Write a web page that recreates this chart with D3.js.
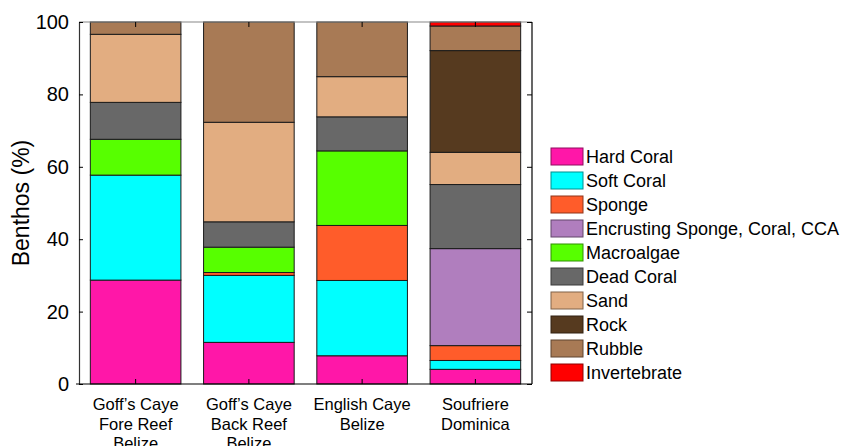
<!DOCTYPE html>
<html>
<head>
<meta charset="utf-8">
<script src="https://cdn.jsdelivr.net/npm/d3@7"></script>
<style>
  body { margin: 0; background: #fff; }
  svg { display: block; font-family: "Liberation Sans", Arial, sans-serif; }
</style>
</head>
<body>
<svg id="chart" width="853" height="446"></svg>
<script>
// sites along x, label lines
var sites = ["GFR", "GBR", "EC", "SD"];
var siteLabels = [
  ["Goff\u2019s Caye", "Fore Reef", "Belize"],
  ["Goff\u2019s Caye", "Back Reef", "Belize"],
  ["English Caye", "Belize"],
  ["Soufriere", "Dominica"]
];
var categories = ["Hard Coral", "Soft Coral", "Sponge", "Encrusting Sponge, Coral, CCA",
  "Macroalgae", "Dead Coral", "Sand", "Rock", "Rubble", "Invertebrate"];
var colors = ["#ff17a8", "#00ffff", "#ff5c2a", "#b07ebe", "#57ff00",
  "#686868", "#e2ad81", "#563a1f", "#a87a55", "#ff0000"];

// percent cover per site, same order as categories
var hardCoral   = [28.7, 11.5,  7.8,  4.05];
var softCoral   = [29.0, 18.5, 20.8,  2.45];
var sponge      = [ 0,    0.8, 15.2,  4.1];
var encrusting  = [ 0,    0,    0,   26.8];
var macroalgae  = [ 9.9,  7.0, 20.6,  0];
var deadCoral   = [10.2,  7.0,  9.4, 17.7];
var sand        = [18.8, 27.5, 11.1,  8.9];
var rock        = [ 0,    0,    0,   28.1];
var rubble      = [ 3.4, 27.7, 15.1,  6.8];
var invertebrate= [ 0,    0,    0,    1.1];
var yTicks = [0, 20, 40, 60, 80, 100];

var series = [hardCoral, softCoral, sponge, encrusting, macroalgae, deadCoral, sand, rock, rubble, invertebrate];
var rows = sites.map(function(s, i) {
  var r = { site: s };
  categories.forEach(function(c, j) { r[c] = series[j][i]; });
  return r;
});

var svg = d3.select("#chart");
var m = { left: 79, right: 532, top: 22, bottom: 384 };

var x = d3.scaleBand().domain(sites).range([m.left, m.right]).paddingInner(0.2).paddingOuter(0.1);
var y = d3.scaleLinear().domain([0, 100]).range([m.bottom, m.top]);
var color = d3.scaleOrdinal().domain(categories).range(colors);

var stack = d3.stack().keys(categories);
var layers = stack(rows);

var g = svg.append("g");
layers.forEach(function(layer) {
  g.selectAll(null)
    .data(layer.filter(function(d) { return d[1] - d[0] > 0; }))
    .enter().append("rect")
    .attr("x", function(d) { return x(d.data.site); })
    .attr("width", x.bandwidth())
    .attr("y", function(d) { return y(d[1]); })
    .attr("height", function(d) { return y(d[0]) - y(d[1]); })
    .attr("fill", color(layer.key))
    .attr("stroke", "#1a1a1a")
    .attr("stroke-width", 1);
});

// frame
svg.append("line").attr("x1", m.left).attr("x2", m.right).attr("y1", m.top).attr("y2", m.top)
  .attr("stroke", "#888").attr("stroke-width", 1.2);
svg.append("line").attr("x1", m.right).attr("x2", m.right).attr("y1", m.top).attr("y2", m.bottom)
  .attr("stroke", "#000").attr("stroke-width", 1.2);

// left axis, ticks inward
var yAxis = d3.axisLeft(y).tickValues(yTicks).tickSizeInner(-4).tickSizeOuter(0).tickPadding(10);
var ya = svg.append("g").attr("transform", "translate(" + m.left + ",0)").call(yAxis);
ya.select(".domain").attr("stroke", "#333").attr("stroke-width", 1.2);
ya.selectAll("text").attr("font-size", 20).attr("fill", "#000")
  .attr("font-family", "Liberation Sans, Arial, sans-serif");

// right axis ticks (no labels)
var yAxisR = d3.axisRight(y).tickValues(yTicks).tickSizeInner(-5).tickSizeOuter(0).tickFormat("");
var yr = svg.append("g").attr("transform", "translate(" + m.right + ",0)").call(yAxisR);
yr.select(".domain").remove();

// bottom axis
var xAxis = d3.axisBottom(x).tickSizeInner(-5).tickSizeOuter(0).tickFormat("");
var xa = svg.append("g").attr("transform", "translate(0," + m.bottom + ")").call(xAxis);
xa.select(".domain").attr("d", "M" + (m.left - 3) + ",0H" + m.right).attr("stroke-width", 1.2);

// top ticks
var xAxisT = d3.axisTop(x).tickSizeInner(-5).tickSizeOuter(0).tickFormat("");
var xt = svg.append("g").attr("transform", "translate(0," + m.top + ")").call(xAxisT);
xt.select(".domain").remove();

// x labels
sites.forEach(function(s, i) {
  var cx = x(s) + x.bandwidth() / 2;
  var t = svg.append("text")
    .attr("x", cx)
    .attr("y", 410)
    .attr("text-anchor", "middle")
    .attr("font-size", 16.5);
  siteLabels[i].forEach(function(line, k) {
    t.append("tspan").attr("x", cx).attr("dy", k === 0 ? 0 : 19.5).text(line);
  });
});

// y label
svg.append("text")
  .attr("transform", "translate(29," + ((m.top + m.bottom) / 2) + ") rotate(-90)")
  .attr("text-anchor", "middle")
  .attr("font-size", 23)
  .text("Benthos (%)");

// legend
var legend = svg.selectAll(".legend")
  .data(categories)
  .enter().append("g")
  .attr("class", "legend")
  .attr("transform", function(d, i) { return "translate(551," + (148 + i * 24) + ")"; });
legend.append("rect")
  .attr("width", 32).attr("height", 17)
  .attr("fill", function(d) { return color(d); })
  .attr("stroke", function(d) { return d3.color(color(d)).darker(1.6); })
  .attr("stroke-width", 1);
legend.append("text")
  .attr("x", 35).attr("y", 15)
  .attr("font-size", 18)
  .text(function(d) { return d; });
</script>
</body>
</html>
